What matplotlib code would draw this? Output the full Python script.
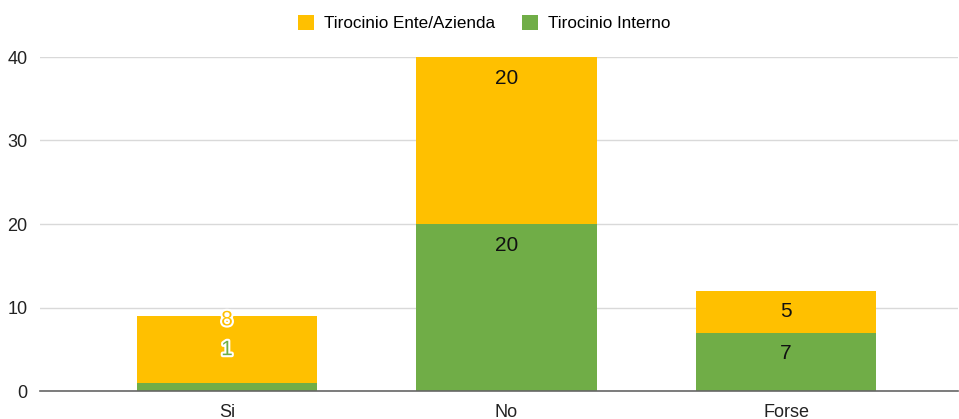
import matplotlib.pyplot as plt
import matplotlib.patheffects as pe

# data
categories = ['Si', 'No', 'Forse']
interno = [1, 20, 7]
ente = [8, 20, 5]
series_names = ['Tirocinio Ente/Azienda', 'Tirocinio Interno']

color_ente = '#FFC000'
color_interno = '#70AD47'

plt.rcParams['font.family'] = ['Liberation Sans', 'DejaVu Sans']

fig = plt.figure(figsize=(9.59, 4.19), dpi=100)
ax = fig.add_axes([40 / 959, 28 / 419, 918 / 959, 334 / 419])

x = list(range(len(categories)))
width = 0.646
b1 = ax.bar(x, interno, width, color=color_interno, label=series_names[1], zorder=2)
b2 = ax.bar(x, ente, width, bottom=interno, color=color_ente, label=series_names[0], zorder=2)

# data labels, placed just under the top of each segment (offset in points)
px = 72 / 100
for i in x:
    total = interno[i] + ente[i]
    if interno[i] < 2:
        # tiny segment: labels pushed up and drawn with a white halo
        halo = [pe.withStroke(linewidth=3, foreground='white')]
        ax.annotate(str(ente[i]), (i, total), xytext=(0, -4 * px), textcoords='offset points',
                    ha='center', va='center', fontsize=15, color=color_ente,
                    path_effects=halo, zorder=3)
        ax.annotate(str(interno[i]), (i, interno[i]), xytext=(0, 33 * px), textcoords='offset points',
                    ha='center', va='center', fontsize=15, color=color_interno,
                    path_effects=halo, zorder=3)
    else:
        ax.annotate(str(ente[i]), (i, total), xytext=(0, -21 * px), textcoords='offset points',
                    ha='center', va='center', fontsize=15, color='#111111', zorder=3)
        ax.annotate(str(interno[i]), (i, interno[i]), xytext=(0, -21 * px), textcoords='offset points',
                    ha='center', va='center', fontsize=15, color='#111111', zorder=3)

ax.set_xlim(-0.669, 2.615)
ax.set_ylim(0, 40)
ax.set_yticks([0, 10, 20, 30, 40])
ax.set_xticks(x)
ax.set_xticklabels(categories)
ax.tick_params(axis='both', length=0, labelsize=13, colors='#222222')
ax.tick_params(axis='y', pad=9)
ax.tick_params(axis='x', pad=9)
ax.yaxis.grid(True, color='#d9d9d9', linewidth=1, zorder=0)
ax.set_axisbelow(True)
for s in ['top', 'right', 'left']:
    ax.spines[s].set_visible(False)
ax.spines['bottom'].set_color('#666666')
ax.spines['bottom'].set_linewidth(1.2)
ax.spines['bottom'].set_zorder(4)

fig.legend(handles=[b2, b1], labels=series_names, loc='upper center',
           bbox_to_anchor=(0.505, 1.0), ncol=2, frameon=False, fontsize=12.3,
           handlelength=0.9, handleheight=0.9, handletextpad=0.6, columnspacing=1.6)

fig.savefig('out.png', dpi=100)
